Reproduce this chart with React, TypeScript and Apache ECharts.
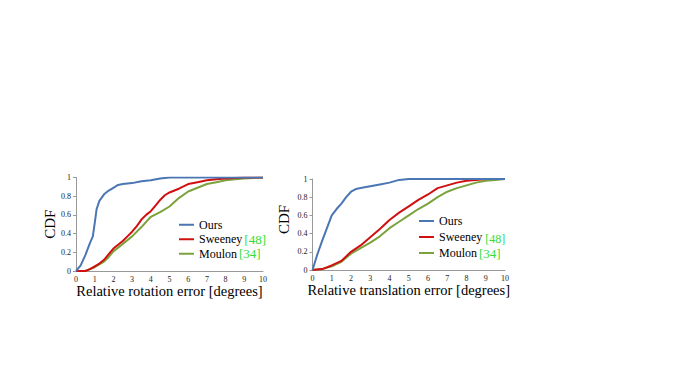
import React, { useEffect, useRef } from "react";
import * as echarts from "echarts";

// Relative rotation error (left chart)
const rotOursX = [0, 0.25, 0.5, 0.75, 0.9, 1.0, 1.1, 1.25, 1.5, 1.75, 2.0, 2.25, 2.5, 3.0, 3.5, 4.0, 4.5, 5, 6, 7, 8, 9, 10];
const rotOursY = [0, 0.06, 0.17, 0.3, 0.37, 0.51, 0.66, 0.75, 0.82, 0.86, 0.89, 0.92, 0.93, 0.94, 0.96, 0.97, 0.99, 1, 1, 1, 1, 1, 1];
const rotSweeneyX = [0, 0.5, 0.75, 1.0, 1.25, 1.5, 1.75, 2.0, 2.25, 2.5, 2.75, 3.0, 3.25, 3.5, 3.75, 4.0, 4.25, 4.5, 4.75, 5.0, 5.5, 6, 6.5, 7, 7.5, 8, 8.5, 9, 10];
const rotSweeneyY = [0, 0, 0.02, 0.05, 0.08, 0.12, 0.18, 0.24, 0.28, 0.32, 0.37, 0.42, 0.48, 0.55, 0.6, 0.64, 0.7, 0.76, 0.81, 0.84, 0.88, 0.93, 0.95, 0.97, 0.98, 0.99, 0.995, 1.0, 1.0];
const rotMoulonX = [0, 0.5, 0.75, 1.0, 1.25, 1.5, 1.75, 2.0, 2.5, 3.0, 3.5, 4.0, 4.5, 5.0, 5.5, 6.0, 6.5, 7.0, 7.5, 8, 8.5, 9, 9.5, 10];
const rotMoulonY = [0, 0, 0.02, 0.04, 0.07, 0.1, 0.15, 0.21, 0.29, 0.37, 0.47, 0.58, 0.63, 0.69, 0.78, 0.85, 0.89, 0.93, 0.95, 0.97, 0.98, 0.99, 0.995, 1.0];

// Relative translation error (right chart)
const trOursX = [0, 0.25, 0.5, 0.75, 1.0, 1.25, 1.5, 1.75, 2.0, 2.25, 2.5, 3.0, 3.5, 4.0, 4.5, 5, 6, 7, 8, 9, 10];
const trOursY = [0, 0.17, 0.32, 0.46, 0.6, 0.67, 0.73, 0.8, 0.86, 0.89, 0.9, 0.92, 0.94, 0.96, 0.99, 1, 1, 1, 1, 1, 1];
const trSweeneyX = [0, 0.5, 1.0, 1.5, 2.0, 2.5, 3.0, 3.5, 4.0, 4.5, 5.0, 5.5, 6.0, 6.5, 7.0, 7.5, 8.0, 8.5, 9, 9.5, 10];
const trSweeneyY = [0, 0.01, 0.05, 0.1, 0.2, 0.27, 0.36, 0.45, 0.55, 0.63, 0.7, 0.77, 0.83, 0.9, 0.93, 0.96, 0.98, 0.99, 1, 1, 1];
const trMoulonX = [0, 0.5, 1.0, 1.5, 2.0, 2.5, 3.0, 3.5, 4.0, 4.5, 5.0, 5.5, 6.0, 6.5, 7.0, 7.5, 8.0, 8.5, 9, 9.5, 10];
const trMoulonY = [0, 0.01, 0.04, 0.09, 0.18, 0.24, 0.3, 0.37, 0.46, 0.53, 0.6, 0.67, 0.73, 0.8, 0.86, 0.9, 0.93, 0.96, 0.98, 0.99, 1.0];

const seriesNames = ["Ours", "Sweeney", "Moulon"];
const refs: Record<string, string> = { Sweeney: "[48]", Moulon: "[34]" };
const xTitles = ["Relative rotation error [degrees]", "Relative translation error [degrees]"];
const yTitle = "CDF";

const COLORS = ["#4A76B4", "#D01010", "#7BA23C"];
const SERIF = "Liberation Serif";

const pairs = (xs: number[], ys: number[]) => xs.map((x, i) => [x, ys[i]]);

export default function App() {
  const ref = useRef<HTMLDivElement>(null);
  useEffect(() => {
    if (!ref.current) return;
    const chart = echarts.init(ref.current, null, { renderer: "svg" });

    const grids = [
      { left: 76, top: 177.5, width: 187, height: 93.5 },
      { left: 312.5, top: 179, width: 192.5, height: 91 },
    ];

    const xAxes = grids.map((_, i) => ({
      type: "value",
      gridIndex: i,
      min: 0,
      max: 10,
      interval: 1,
      name: xTitles[i],
      nameLocation: "middle",
      nameGap: 11,
      nameTextStyle: { fontFamily: SERIF, fontSize: 14.5, color: "#000" },
      axisLine: { show: true, lineStyle: { color: "#999", width: 1 } },
      axisTick: { show: false },
      splitLine: { show: false },
      axisLabel: { fontFamily: SERIF, fontSize: 8, color: "#222", margin: 4 },
    }));

    const yAxes = grids.map((_, i) => ({
      type: "value",
      gridIndex: i,
      min: 0,
      max: 1,
      interval: 0.2,
      name: yTitle,
      nameLocation: "middle",
      nameGap: i === 0 ? 18 : 21,
      nameTextStyle: {
        fontFamily: SERIF,
        fontSize: 15,
        color: "#000",
        padding: i === 0 ? [0, 0, 0, 0] : [0, 0, 0, 10],
      },
      axisLine: { show: true, lineStyle: { color: "#999", width: 1 } },
      axisTick: { show: true, length: 3, lineStyle: { color: "#999" } },
      splitLine: { show: false },
      axisLabel: { fontFamily: SERIF, fontSize: 8, color: "#222", margin: 5 },
    }));

    const data = [
      [pairs(rotOursX, rotOursY), pairs(rotSweeneyX, rotSweeneyY), pairs(rotMoulonX, rotMoulonY)],
      [pairs(trOursX, trOursY), pairs(trSweeneyX, trSweeneyY), pairs(trMoulonX, trMoulonY)],
    ];

    const series: any[] = [];
    data.forEach((group, gi) => {
      group.forEach((d, si) => {
        series.push({
          type: "line",
          name: seriesNames[si],
          xAxisIndex: gi,
          yAxisIndex: gi,
          data: d,
          showSymbol: false,
          symbol: "none",
          smooth: false,
          color: COLORS[si],
          itemStyle: { color: COLORS[si] },
          lineStyle: { color: COLORS[si], width: 2 },
          z: 3 - si,
        });
      });
    });

    const legendBase = (left: number, top: number, lh: number, lowered: boolean) => ({
      orient: "vertical",
      left,
      top,
      itemGap: 0,
      itemWidth: 15,
      itemHeight: 2,
      icon: "rect",
      selectedMode: false,
      data: seriesNames,
      formatter: (name: string) => {
        if (!refs[name]) return `{a|${name}}`;
        const style = lowered && name === "Sweeney" ? "s" : "g";
        return `{a|${name}}{${style}|${refs[name]}}`;
      },
      textStyle: {
        fontFamily: SERIF,
        fontSize: 12,
        color: "#000",
        lineHeight: lh,
        rich: {
          a: { fontFamily: SERIF, fontSize: 12, color: "#000", lineHeight: lh },
          g: { fontFamily: SERIF, fontSize: 13, color: "#33DD33", lineHeight: lh, padding: [0, 0, 0, 2] },
          s: { fontFamily: SERIF, fontSize: 12, color: "#33DD33", lineHeight: lh, padding: [3, 0, 0, 3] },
        },
      },
    });

    chart.setOption({
      animation: false,
      color: COLORS,
      grid: grids.map((g) => ({ ...g, containLabel: false })),
      xAxis: xAxes,
      yAxis: yAxes,
      legend: [legendBase(174, 212.5, 14.5, false), legendBase(414, 208, 16, true)],
      series,
    });

    return () => chart.dispose();
  }, []);

  return (
    <div
      ref={ref}
      style={{ position: "absolute", left: 0, top: 0, width: 677, height: 379, background: "#fff" }}
    />
  );
}
